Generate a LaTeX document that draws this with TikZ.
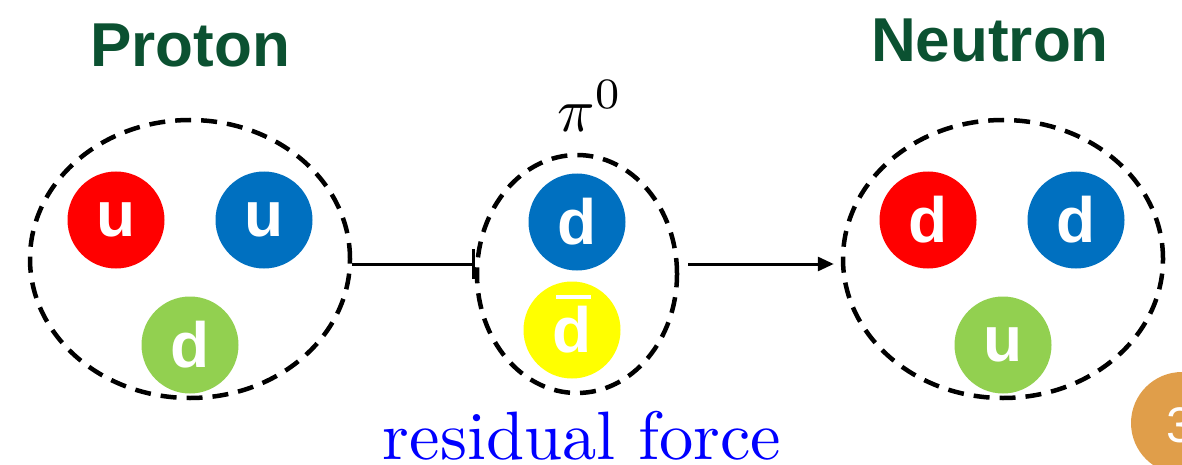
\documentclass[tikz,border=0pt]{standalone}
\usepackage{fontspec}
\newfontfamily\arialb{Liberation Sans}[BoldFont={Liberation Sans Bold}]
\usetikzlibrary{arrows.meta,shapes.geometric}
\definecolor{qred}{HTML}{FF0000}
\definecolor{qblue}{HTML}{0070C0}
\definecolor{qgreen}{HTML}{92D050}
\definecolor{qyellow}{HTML}{FFFF00}
\definecolor{dkgreen}{HTML}{0B5131}
\definecolor{slideorange}{HTML}{E09E4A}
\begin{document}
\begin{tikzpicture}[x=1pt,y=-1pt,
  hadron/.style={draw=black,line width=4.5pt,dash pattern=on 16pt off 10pt,shape=ellipse,inner sep=0pt},
  quark/.style={circle,minimum size=97pt,inner sep=0pt,text=white,font=\arialb\bfseries\fontsize{64}{64}\selectfont},
  title/.style={text=dkgreen,font=\arialb\bfseries\fontsize{62}{62}\selectfont},
  conn/.style={line width=3pt}]
\useasboundingbox (0,0) rectangle (1182,465);
\clip (0,0) rectangle (1182,465);
% hadron outlines
\node[hadron,minimum width=320pt,minimum height=278pt] (protonbag) at (190,259) {};
\node[hadron,minimum width=200pt,minimum height=238pt] (pionbag) at (577,274) {};
\node[hadron,minimum width=320pt,minimum height=278pt] (neutronbag) at (1003,259) {};
% titles
\node[title] (proton) at (190,45) {Proton};
\node[title] (neutron) at (990,40) {Neutron};
% proton quarks
\node[quark,fill=qred] (pu1) at (116,220) {u};
\node[quark,fill=qblue] (pu2) at (264,220) {u};
\node[quark,fill=qgreen] (pd) at (190,345) {d};
% pion quarks
\node[quark,fill=qblue] (pid) at (577,222) {d};
\node[quark,fill=qyellow] (pidbar) at (572,330) {d};
\draw[white,line width=4pt] (556,297) -- (591,297);
% neutron quarks
\node[quark,fill=qred] (nd1) at (928,220) {d};
\node[quark,fill=qblue] (nd2) at (1076,220) {d};
\node[quark,fill=qgreen] (nu) at (1003,345) {u};
% labels
\node[scale=6.2] (pilabel) at (590,106) {$\pi^0$};
\node[text=blue,scale=6.85,anchor=base,inner sep=0pt] (resid) at (582,459) {\fontsize{10}{12}\selectfont residual force};
% connectors
\draw[conn,{}-{Bar[width=30pt,line width=3pt]}] (protonbag.east |- 0,264) -- (pionbag.west |- 0,264);
\draw[conn,-{Triangle[length=16pt,width=14pt]}] ([xshift=9pt]pionbag.east |- 0,264) -- ([xshift=-7pt]neutronbag.west |- 0,264);
% slide number
\node[circle,fill=slideorange,minimum size=102pt,inner sep=0pt] (badge) at (1182,423) {};
\node[text=white,font=\arialb\fontsize{50}{50}\selectfont,anchor=west] (num) at (1163,425) {3};
\end{tikzpicture}
\end{document}
